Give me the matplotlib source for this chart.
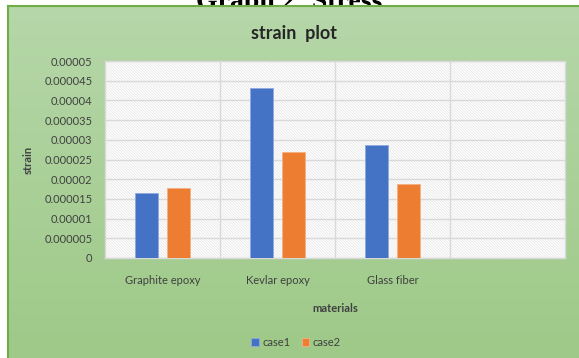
import numpy as np
import matplotlib.pyplot as plt
from matplotlib.patches import Rectangle

materials = ["Graphite epoxy", "Kevlar epoxy", "Glass fiber", ""]
case1 = [0.0000165, 0.0000432, 0.0000286, np.nan]
case2 = [0.0000178, 0.0000270, 0.0000189, np.nan]
ytick_vals = [0, 0.000005, 0.00001, 0.000015, 0.00002, 0.000025,
              0.00003, 0.000035, 0.00004, 0.000045, 0.00005]
ytick_labels = ["0", "0.000005", "0.00001", "0.000015", "0.00002", "0.000025",
                "0.00003", "0.000035", "0.00004", "0.000045", "0.00005"]

plt.rcParams["font.family"] = ["Lato", "DejaVu Sans"]
plt.rcParams["hatch.linewidth"] = 0.5

W, H = 579, 358
fig = plt.figure(figsize=(W / 100, H / 100), dpi=100)
fig.patch.set_facecolor("white")

# page heading above the chart, mostly hidden behind the chart frame
fig.text(0.5, 1 - 9 / H, "Graph 2: Stress", ha="center", va="baseline",
         fontsize=20, fontweight="bold", family="Liberation Serif", zorder=-2)

# green gradient chart area
bg = fig.add_axes([8 / W, 0, 1 - 8 / W, 1 - 6 / H], zorder=-1)
top = np.array([182, 215, 169]) / 255
bot = np.array([158, 201, 136]) / 255
t = np.linspace(0, 1, 256)[:, None]
grad = top + (bot - top) * t
bg.imshow(grad[:, None, :].repeat(2, axis=1), aspect="auto", extent=[0, 1, 0, 1])
bg.set_xlim(0, 1)
bg.set_ylim(0, 1)
bg.set_xticks([])
bg.set_yticks([])
for s in bg.spines.values():
    s.set_color("#70ad47")
    s.set_linewidth(1.5)
bg.spines["right"].set_visible(False)
bg.spines["bottom"].set_visible(False)

ax = fig.add_axes([105 / W, 1 - 258 / H, 460 / W, 197 / H])
ax.set_facecolor("white")
ax.add_patch(Rectangle((0, 0), 1, 1, transform=ax.transAxes, facecolor="white",
                       edgecolor="#e4e4e4", hatch="\\" * 12, lw=0, zorder=0))

x = np.arange(len(materials))
w = 0.2
off = 0.14
ax.bar(x - off, case1, w, color="#4472c4", edgecolor="#8faadc", lw=0.6,
       label="case1", zorder=3)
ax.bar(x + off, case2, w, color="#ed7d31", edgecolor="#f4b183", lw=0.6,
       label="case2", zorder=3)

ax.set_xlim(-0.5, len(materials) - 0.5)
ax.set_ylim(0, 0.00005)
ax.set_yticks(ytick_vals)
ax.set_yticklabels(ytick_labels, fontsize=8, color="#404040")
ax.set_xticks(x)
ax.set_xticklabels(materials, fontsize=8, color="#404040")
ax.tick_params(axis="y", length=0, pad=9)
ax.tick_params(axis="x", length=0, pad=12)

for v in ytick_vals:
    ax.axhline(v, color="#d9d9d9", lw=1, zorder=1)
for b in np.arange(0.5, len(materials) - 1, 1):
    ax.axvline(b, color="#d9d9d9", lw=1, zorder=1)
for s in ax.spines.values():
    s.set_color("#d9d9d9")
    s.set_linewidth(1)

ax.set_xlabel("materials", fontsize=8, fontweight="bold", color="#404040")
ax.set_ylabel("strain", fontsize=8, fontweight="bold", color="#404040")
ax.xaxis.set_label_coords(0.5, -0.228)
ax.yaxis.set_label_coords(-0.154, 0.5)

fig.text(294 / W, 1 - 33 / H, "strain  plot", ha="center", va="center",
         fontsize=13, fontweight="bold", color="#262626")

fig.legend(loc="center", bbox_to_anchor=(296 / W, 1 - 342 / H), ncol=2,
           frameon=False, fontsize=8, handlelength=0.7, handleheight=0.7,
           handletextpad=0.3, columnspacing=1.0, labelcolor="#404040")

fig.savefig("out.png", dpi=100)
